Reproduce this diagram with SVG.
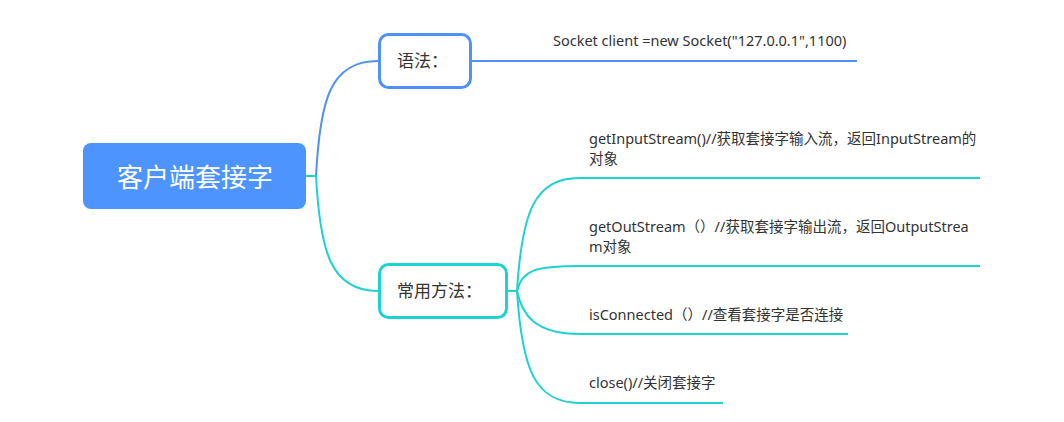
<svg xmlns="http://www.w3.org/2000/svg" width="1064" height="422" viewBox="0 0 1064 422">
<style>
.t{font-family:"Noto Sans","Noto Sans CJK SC",sans-serif;fill:#333;font-size:14.5px}
.n{font-family:"Noto Sans CJK SC","Noto Sans",sans-serif;fill:#333;font-size:17px}
.b{fill:none;stroke:#4F91F7;stroke-width:2}
.c{fill:none;stroke:#1DD2D1;stroke-width:2}
</style>
<rect width="1064" height="422" fill="#fff"/>
<g id="connectors">
<path class="b" d="M306,176 H316 C320,100 330,61 378,61"/>
<path class="c" d="M306,176 H316 C320,250 330,291 378,291"/>
<path class="b" d="M472,61 H857"/>
<path class="c" d="M508,291 H517 C522,210 535,178 580,178 H980"/>
<path class="c" d="M517,291 C522,270 535,266 580,266 H980"/>
<path class="c" d="M517,291 C522,315 535,334 580,334 H848"/>
<path class="c" d="M517,291 C522,370 535,403 580,403 H723"/>
</g>
<g id="root">
<rect x="83" y="143" width="223" height="66" rx="8" fill="#4D94FF"/>
<text x="195" y="187" text-anchor="middle" font-family="Noto Sans CJK SC,sans-serif" font-size="26" fill="#fff">客户端套接字</text>
</g>
<g id="syntax">
<rect x="379.5" y="34.5" width="91" height="53" rx="9" fill="#fff" stroke="#4F91F7" stroke-width="3"/>
<text class="n" x="397" y="67">语法：</text>
</g>
<g id="syntax-text">
<text class="t" x="553" y="46">Socket client =new Socket("127.0.0.1",1100)</text>
</g>
<g id="methods">
<rect x="379.5" y="264.5" width="127" height="53" rx="9" fill="#fff" stroke="#1DD2D1" stroke-width="3"/>
<text class="n" x="397" y="297">常用方法：</text>
</g>
<g id="m1">
<text class="t" x="589" y="144">getInputStream()//获取套接字输入流，返回InputStream的</text>
<text class="t" x="589" y="164">对象</text>
</g>
<g id="m2">
<text class="t" x="589" y="232">getOutStream（）//获取套接字输出流，返回OutputStrea</text>
<text class="t" x="589" y="252">m对象</text>
</g>
<g id="m3">
<text class="t" x="589" y="320">isConnected（）//查看套接字是否连接</text>
</g>
<g id="m4">
<text class="t" x="589" y="388">close()//关闭套接字</text>
</g>
</svg>
